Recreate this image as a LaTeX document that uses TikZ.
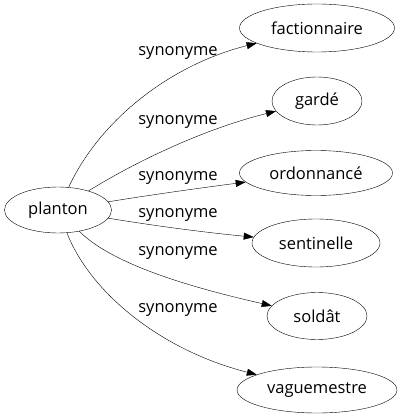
\documentclass[tikz,border=0pt]{standalone}
\usepackage{fontspec}
\setmainfont{Open Sans}
\usetikzlibrary{arrows.meta,shapes.geometric}
\tikzset{
  word/.style={
    draw,
    shape = ellipse,
    inner sep = 0pt,
    minimum height = 46pt,
    font=\fontsize{16.5}{18}\selectfont
  },
  syn/.style={
    draw,
    thin,
    -{Triangle[length=10pt,width=7pt]}
  },
  synlabel/.style={
    inner sep = 0pt,
    font=\fontsize{16.5}{18}\selectfont
  }
}
\begin{document}
\begin{tikzpicture}[x=1pt,y=-1pt]
  \useasboundingbox (0,0) rectangle (402,419);
  \node[word, minimum width=107pt] (planton) at (58,210) {planton};
  \node[word, minimum width=155pt, minimum height=48pt] (factionnaire) at (317,28) {factionnaire};
  \node[word, minimum width=90pt, minimum height=48pt] (garde) at (317,101) {gardé};
  \node[word, minimum width=153pt, minimum height=45pt] (ordonnance) at (316,173) {ordonnancé};
  \node[word, minimum width=128pt, minimum height=48pt] (sentinelle) at (316,243) {sentinelle};
  \node[word, minimum width=100pt, minimum height=47pt] (soldat) at (317,316) {soldât};
  \node[word, minimum width=160pt] (vaguemestre) at (317,390) {vaguemestre};
  % edges
  \draw[syn] (planton) .. controls (100,120) and (170,65) .. (factionnaire);
  \draw[syn] (planton) .. controls (130,165) and (200,130) .. (garde);
  \draw[syn] (planton) .. controls (150,195) and (200,188) .. (ordonnance);
  \draw[syn] (planton) .. controls (150,225) and (200,232) .. (sentinelle);
  \draw[syn] (planton) .. controls (110,262) and (180,285) .. (soldat);
  \draw[syn] (planton) .. controls (90,292) and (160,350) .. (vaguemestre);
  % labels
  \node[synlabel] (l1) at (178,53) {synonyme};
  \node[synlabel] (l2) at (178,122) {synonyme};
  \node[synlabel] (l3) at (178,178) {synonyme};
  \node[synlabel] (l4) at (178,215) {synonyme};
  \node[synlabel] (l5) at (178,253) {synonyme};
  \node[synlabel] (l6) at (178,310) {synonyme};
\end{tikzpicture}
\end{document}
